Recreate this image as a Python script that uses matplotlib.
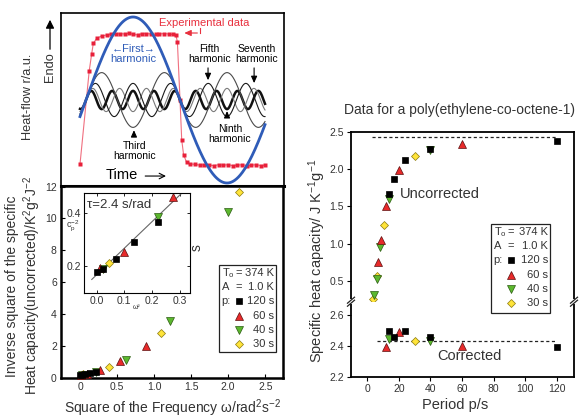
import numpy as np
import matplotlib.pyplot as plt
from matplotlib.lines import Line2D
from matplotlib.patches import Rectangle

plt.rcParams['font.family'] = ['Liberation Sans', 'DejaVu Sans']
plt.rcParams['mathtext.fontset'] = 'custom'
plt.rcParams['mathtext.rm'] = 'Liberation Sans'
plt.rcParams['mathtext.it'] = 'Liberation Sans:italic'

TXT = '#333333'
W, H = 582.0, 418.0

# --- top panel: heat-flow schematic (time in periods, heat flow relative) ---
harm_order = [1, 3, 5, 7, 9]
harm_amp = [1.0, 0.33, 0.20, 0.14, 0.11]
harm_color = ['#2f5cb8', '#4a4a4a', '#1a1a1a', '#7a7a7a', '#111111']
harm_lw = [2.0, 0.8, 0.8, 0.8, 1.8]
exp_t = [-0.032, 0.017, 0.030, 0.039, 0.057, 0.083, 0.110, 0.135, 0.160, 0.180,
         0.205, 0.230, 0.250, 0.275, 0.300, 0.320, 0.345, 0.370, 0.390, 0.415,
         0.440, 0.460, 0.478, 0.486, 0.500, 0.509, 0.519, 0.535, 0.553, 0.580,
         0.605, 0.630, 0.655, 0.680, 0.705, 0.730, 0.755, 0.780, 0.805, 0.830,
         0.855, 0.880, 0.905, 0.930, 0.952]
exp_y = [-0.775, 0.35, 0.554, 0.683, 0.743, 0.771, 0.783, 0.795, 0.790, 0.800,
         0.795, 0.805, 0.790, 0.785, 0.800, 0.800, 0.795, 0.790, 0.795, 0.800,
         0.795, 0.790, 0.783, 0.700, 0.0, -0.48, -0.66, -0.75, -0.77, -0.775,
         -0.785, -0.78, -0.785, -0.79, -0.78, -0.785, -0.78, -0.79, -0.785, -0.78,
         -0.79, -0.785, -0.78, -0.79, -0.785]

# --- bottom-left: inverse square of Cp vs omega^2 ---
w2_120 = [0.003, 0.025, 0.069, 0.134, 0.222]
c2_120 = [0.178, 0.190, 0.227, 0.292, 0.368]
w2_60 = [0.011, 0.099, 0.274, 0.537, 0.888]
c2_60 = [0.194, 0.253, 0.460, 1.05, 2.00]
w2_40 = [0.025, 0.222, 0.617, 1.21, 2.00]
c2_40 = [0.190, 0.385, 1.11, 3.58, 10.43]
w2_30 = [0.044, 0.395, 1.097, 2.15]
c2_30 = [0.213, 0.69, 2.79, 11.68]
fit_w2 = [-0.017, 0.306]
fit_c2 = [0.149, 0.476]

# --- right: specific heat capacity vs period ---
p_120 = [120, 40, 24, 17.1, 13.5]
cpu_120 = [2.38, 2.27, 2.12, 1.86, 1.66]
cpc_120 = [2.397, 2.458, 2.498, 2.462, 2.498]
p_60 = [60, 20, 12, 9.0, 6.6]
cpu_60 = [2.33, 1.99, 1.50, 1.05, 0.75]
pc_60 = [60, 20, 11.6]
cpc_60 = [2.403, 2.489, 2.397]
p_40 = [40, 13.5, 8.0, 5.9, 4.5]
cpu_40 = [2.25, 1.60, 0.96, 0.52, 0.31]
pc_40 = [40, 14]
cpc_40 = [2.43, 2.445]
p_30 = [30, 10.6, 5.9, 3.4]
cpu_30 = [2.18, 1.245, 0.57, 0.26]
pc_30 = [30]
cpc_30 = [2.43]
ref_cp = 2.43

sty = {
    '120': dict(marker='s', ms=4.3, mfc='black', mec='black', mew=0.5, ls='none'),
    '60': dict(marker='^', ms=5.5, mfc='#e82a2a', mec='#5a1010', mew=0.5, ls='none'),
    '40': dict(marker='v', ms=5.5, mfc='#5cb82e', mec='#2b5a12', mew=0.5, ls='none'),
    '30': dict(marker='D', ms=4.2, mfc='#ffe43a', mec='#8a7a10', mew=0.5, ls='none'),
}


def rect(x0, y0, x1, y1):
    return [x0 / W, 1 - y1 / H, (x1 - x0) / W, (y1 - y0) / H]


def fp(px, py):
    return px / W, 1 - py / H


def key(fig, x0, y0, x1, y1):
    fig.add_artist(Rectangle(fp(x0, y1), (x1 - x0) / W, (y1 - y0) / H,
                             transform=fig.transFigure, fc='white', ec='#222222',
                             lw=0.9, zorder=20))
    rows = [y0 + 8 + 14.2 * i for i in range(6)]
    kw = dict(fontsize=8, color=TXT, va='center', zorder=21)
    fig.text(*fp(x0 + 2.5, rows[0]), r'T$_\mathrm{o}$', ha='left', **kw)
    fig.text(*fp(x0 + 16, rows[0]), '=', ha='left', **kw)
    fig.text(*fp(x1 - 2, rows[0]), '374 K', ha='right', **kw)
    fig.text(*fp(x0 + 2.5, rows[1]), 'A', ha='left', **kw)
    fig.text(*fp(x0 + 16, rows[1]), '=', ha='left', **kw)
    fig.text(*fp(x1 - 2, rows[1]), '1.0 K', ha='right', **kw)
    fig.text(*fp(x0 + 2.5, rows[2]), 'p:', ha='left', **kw)
    for r, k in zip(rows[2:], ['120', '60', '40', '30']):
        fig.add_artist(Line2D([(x0 + 20) / W], [1 - r / H], transform=fig.transFigure,
                              zorder=22, **sty[k]))
        fig.text(*fp(x1 - 2, r), k + ' s', ha='right', **kw)


fig = plt.figure(figsize=(5.82, 4.18), dpi=100)

# ---------------- top-left schematic ----------------
ax0 = fig.add_axes(rect(61, 13, 284, 186))
ax0.set_xlim(-0.133, 1.053)
ax0.set_ylim(-1.036, 1.048)
ax0.set_xticks([])
ax0.set_yticks([])
for s in ax0.spines.values():
    s.set_linewidth(1.2)
ax0.spines['bottom'].set_linewidth(2.2)
t = np.linspace(-0.032, 0.952, 500)
ax0.plot(exp_t, exp_y, color='#f07080', lw=0.8, marker='s', ms=2.2,
         mfc='#e8203a', mec='none', zorder=2)
for n, a, c, lw in zip(harm_order[::-1], harm_amp[::-1], harm_color[::-1], harm_lw[::-1]):
    ax0.plot(t, a * np.sin(2 * np.pi * n * t), color=c, lw=lw,
             zorder=5 if n == 1 else 3, clip_on=False)
ax0.text(0.628, 0.928, 'Experimental data', color='#e8303e', fontsize=8, ha='center', va='center')
ax0.plot([0.606, 0.606], [0.867, 0.807], color='#e8303e', lw=0.8)
ax0.annotate('', xy=(0.508, 0.807), xytext=(0.607, 0.807),
             arrowprops=dict(arrowstyle='-|>,head_length=0.4,head_width=0.18', color='#e8303e', lw=0.8))
ax0.text(0.253, 0.555, '\u2190First\u2192\nharmonic', color='#2f5cb8', fontsize=8,
         ha='center', va='center', linespacing=1.1)
arr = dict(arrowstyle='-|>,head_length=0.4,head_width=0.18', color='black', lw=0.8)
for tx, ty, lab, a_t, a_y0, a_y1 in [
        (0.657, 0.554, 'Fifth\nharmonic', 0.649, 0.42, 0.205),
        (0.908, 0.554, 'Seventh\nharmonic', 0.894, 0.42, 0.17),
        (0.258, -0.614, 'Third\nharmonic', 0.255, -0.446, -0.33),
        (0.766, -0.410, 'Ninth\nharmonic', 0.750, -0.24, -0.10)]:
    ax0.text(tx, ty, lab, fontsize=7.5, ha='center', va='center', color='black', linespacing=1.1)
    ax0.annotate('', xy=(a_t, a_y1), xytext=(a_t, a_y0), arrowprops=arr)
ax0.text(0.106, -0.904, 'Time', fontsize=10.5, ha='left', va='center', color='black')
ax0.annotate('', xy=(0.44, -0.916), xytext=(0.30, -0.916),
             arrowprops=dict(arrowstyle='->', color='black', lw=0.8))
fig.text(*fp(28, 97), 'Heat-flow r/a.u.', rotation=90, fontsize=9.2, color=TXT,
         ha='center', va='center')
fig.text(*fp(50, 67), 'Endo', rotation=90, fontsize=9.2, color=TXT, ha='center', va='center')
ax0.annotate('', xy=fp(50, 17), xytext=fp(50, 52), xycoords='figure fraction',
             textcoords='figure fraction', annotation_clip=False,
             arrowprops=dict(arrowstyle='-|>,head_length=0.5,head_width=0.25', color='black', lw=0.9))

# ---------------- bottom-left: cp^-2 vs omega^2 ----------------
ax1 = fig.add_axes(rect(61, 186, 283, 378))
ax1.set_xlim(-0.257, 2.74)
ax1.set_ylim(-0.02, 12.04)
for s in ax1.spines.values():
    s.set_linewidth(1.8)
ax1.set_xticks([0, 0.5, 1.0, 1.5, 2.0, 2.5])
ax1.set_xticklabels(['0', '0.5', '1.0', '1.5', '2.0', '2.5'])
ax1.set_yticks(range(0, 13, 2))
ax1.tick_params(direction='in', length=3, width=0.8, labelsize=7.5, labelcolor=TXT, pad=3)
for k, xs, ys in [('30', w2_30, c2_30), ('40', w2_40, c2_40), ('60', w2_60, c2_60),
                  ('120', w2_120, c2_120)]:
    ax1.plot(xs, ys, clip_on=False, zorder=4, **sty[k])
ax1.text(1.58, 8.2, 's', rotation=90, fontsize=10, color=TXT, ha='center', va='center')
ax1.set_xlabel(r'Square of the Frequency ω/rad$^2$s$^{-2}$', fontsize=10, color=TXT, labelpad=4)
fig.text(*fp(24, 286), 'Inverse square of the specific\n'
         r'Heat capacity(uncorrected)/K$^2$g$^2$J$^{-2}$', rotation=90, fontsize=10,
         color=TXT, ha='center', va='center', linespacing=1.15)
key(fig, 219, 265, 276, 352)

# inset
ax2 = fig.add_axes(rect(84, 193, 190, 293))
ax2.set_xlim(-0.045, 0.336)
ax2.set_ylim(0.0975, 0.477)
ax2.set_xticks([0.0, 0.1, 0.2, 0.3])
ax2.set_yticks([0.2, 0.4])
ax2.tick_params(direction='in', length=2.5, width=0.6, labelsize=7.5, labelcolor=TXT,
                top=True, right=True, pad=2)
for s in ax2.spines.values():
    s.set_linewidth(0.8)
ax2.plot(fit_w2, fit_c2, color='#666666', lw=0.8)
for k, xs, ys in [('30', w2_30, c2_30), ('40', w2_40, c2_40), ('60', w2_60, c2_60),
                  ('120', w2_120, c2_120)]:
    ax2.plot(xs, ys, **sty[k])
ax2.text(0.03, 0.88, 'τ=2.4 s/rad', transform=ax2.transAxes, fontsize=9.5, color=TXT,
         ha='left', va='center')
ax2.set_xlabel('ω²', fontsize=5, color=TXT, labelpad=-1)
ax2.set_ylabel(r'c$_\mathrm{p}^{-2}$', fontsize=6.5, color=TXT, rotation=0, labelpad=4)
ax2.yaxis.set_label_coords(-0.11, 0.6)

# ---------------- right: Cp vs period ----------------
ax3 = fig.add_axes(rect(351, 131.7, 574, 301.7))
ax4 = fig.add_axes(rect(351, 301.7, 574, 376.7))
for ax in (ax3, ax4):
    ax.set_xlim(-10.3, 131)
    for s in ax.spines.values():
        s.set_linewidth(1.3)
    ax.tick_params(direction='out', length=3, width=0.8, labelsize=7.5, labelcolor=TXT, pad=2)
ax3.set_ylim(0.22, 2.5)
ax4.set_ylim(2.2, 2.69)
ax3.spines['bottom'].set_visible(False)
ax4.spines['top'].set_visible(False)
ax3.set_xticks([])
ax3.set_yticks([0.5, 1.0, 1.5, 2.0, 2.5])
ax4.set_yticks([2.2, 2.4, 2.6])
ax4.set_xticks(range(0, 121, 20))
ax3.plot([3, 120], [ref_cp, ref_cp], color='#222222', lw=0.9, ls=(0, (2.5, 2)))
ax4.plot([6, 120], [2.435, 2.435], color='#222222', lw=0.9, ls=(0, (2.5, 2)))
for k, xs, ys in [('30', p_30, cpu_30), ('40', p_40, cpu_40), ('60', p_60, cpu_60),
                  ('120', p_120, cpu_120)]:
    ax3.plot(xs, ys, **sty[k])
for k, xs, ys in [('30', pc_30, cpc_30), ('40', pc_40, cpc_40), ('60', pc_60, cpc_60),
                  ('120', p_120, cpc_120)]:
    ax4.plot(xs, ys, **sty[k])
ax3.text(20.7, 1.67, 'Uncorrected', fontsize=10.5, color=TXT, ha='left', va='center')
ax4.text(65, 2.335, 'Corrected', fontsize=10.5, color=TXT, ha='center', va='center')
# break marks
for bx in (351, 574):
    fig.add_artist(Rectangle(fp(bx - 4, 304), 8 / W, 5 / H, transform=fig.transFigure,
                             fc='white', ec='none', zorder=10))
    for dy in (-1.5, 1.5):
        fig.add_artist(Line2D([(bx - 3.5) / W, (bx + 3.5) / W],
                              [1 - (301.7 + dy + 3) / H, 1 - (301.7 + dy - 3) / H],
                              transform=fig.transFigure, color='#222222', lw=0.9, zorder=11))
fig.text(*fp(459, 110), 'Data for a poly(ethylene-co-octene-1)', fontsize=10, color=TXT,
         ha='center', va='center')
fig.text(*fp(455, 405), 'Period p/s', fontsize=10.5, color=TXT, ha='center', va='center')
fig.text(*fp(317, 261), r'Specific heat capacity/ J K$^{-1}$g$^{-1}$', rotation=90,
         fontsize=10.5, color=TXT, ha='center', va='center')
key(fig, 491, 224, 550, 313)

fig.savefig('out.png', dpi=100)
